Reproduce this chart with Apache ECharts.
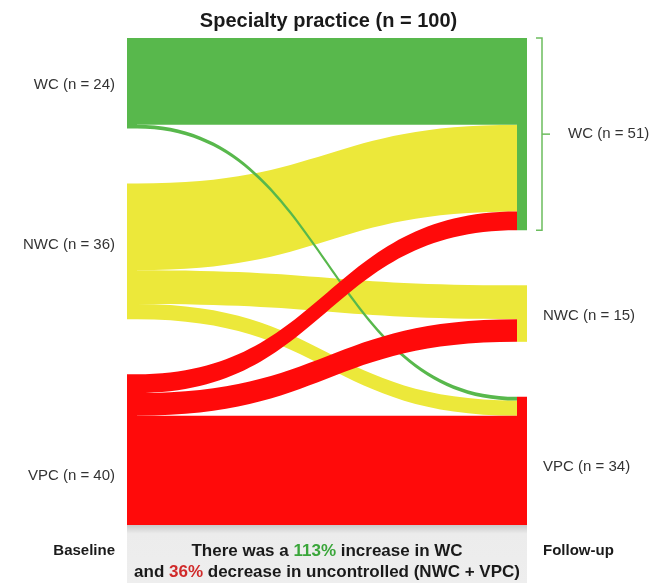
<!DOCTYPE html>
<html>
<head>
<meta charset="utf-8">
<script src="https://cdn.jsdelivr.net/npm/echarts@6/dist/echarts.min.js"></script>
<style>
  html, body { margin: 0; padding: 0; background: #ffffff; }
  #chart { width: 657px; height: 583px; }
</style>
</head>
<body>
<div id="chart"></div>
<script>
// Control status of patients at baseline and at follow-up
const categories = ['WC', 'NWC', 'VPC'];
const baselineCounts = [24, 36, 40];
const followUpCounts = [51, 15, 34];
// Patients moving from one baseline category to each follow-up category (WC, NWC, VPC)
const fromWC = [23, 0, 1];
const fromNWC = [23, 9, 4];
const fromVPC = [5, 6, 29];
const categoryColors = ['#58b84c', '#ece83a', '#ff0a0a'];

const FONT = '"Liberation Sans", Arial, Helvetica, sans-serif';
const SANKEY_LEFT = 127;
const SANKEY_TOP = 38;

const flows = { WC: fromWC, NWC: fromNWC, VPC: fromVPC };

// Nodes: baseline column first, then follow-up column
const nodes = [];
categories.forEach((c, i) => {
  nodes.push({
    name: 'base-' + c,
    itemStyle: { color: categoryColors[i] },
    label: {
      position: 'left',
      distance: 12,
      formatter: c + ' (n = ' + baselineCounts[i] + ')',
      offset: [0, [2, -6, 26][i]]
    }
  });
});
categories.forEach((c, i) => {
  nodes.push({
    name: 'follow-' + c,
    itemStyle: { color: categoryColors[i] },
    label: {
      position: 'right',
      distance: [41, 16, 16][i],
      formatter: c + ' (n = ' + followUpCounts[i] + ')',
      offset: [0, [0, 2, 6][i]]
    }
  });
});

// Links: yellow bands underneath, then the green, then the red ones on top
const linkOrder = ['NWC', 'WC', 'VPC'];
const links = [];
linkOrder.forEach(src => {
  flows[src].forEach((v, j) => {
    if (v > 0) {
      links.push({ source: 'base-' + src, target: 'follow-' + categories[j], value: v });
    }
  });
});

const chart = echarts.init(document.getElementById('chart'), null, { renderer: 'canvas' });

chart.setOption({
  backgroundColor: '#ffffff',
  animation: false,
  title: {
    text: 'Specialty practice (n = 100)',
    left: 'center',
    top: 6,
    textStyle: { fontFamily: FONT, fontSize: 20, fontWeight: 'bold', color: '#1a1a1a' }
  },
  series: [{
    type: 'sankey',
    left: SANKEY_LEFT,
    right: 130,
    top: SANKEY_TOP,
    bottom: 58,
    nodeWidth: 10,
    nodeGap: 55,
    layoutIterations: 0,
    draggable: false,
    emphasis: { disabled: true },
    label: { color: '#333333', fontSize: 15, fontFamily: FONT },
    itemStyle: { borderWidth: 0 },
    lineStyle: { color: 'source', opacity: 1, curveness: 0.5 },
    data: nodes,
    links: links
  }]
});

// Annotations placed from the computed node layout (layout is relative to the series box)
const data = chart.getModel().getSeriesByIndex(0).getData();
const lay = i => data.getItemLayout(i);
const leftX = SANKEY_LEFT + lay(0).x;
const rightEnd = SANKEY_LEFT + lay(3).x + lay(3).dx;
const bottomY = SANKEY_TOP + lay(2).y + lay(2).dy;
const wcTop = SANKEY_TOP + lay(3).y;
const wcBot = SANKEY_TOP + lay(3).y + lay(3).dy;
const bx = rightEnd + 15;
const midY = (wcTop + wcBot) / 2;

chart.setOption({
  graphic: [
    {
      type: 'rect',
      z: -1,
      shape: { x: leftX, y: bottomY, width: rightEnd - leftX, height: 583 - bottomY },
      style: {
        fill: new echarts.graphic.LinearGradient(0, 0, 0, 1, [
          { offset: 0, color: '#c9c9c9' },
          { offset: 0.15, color: '#ececec' },
          { offset: 1, color: '#eeeeee' }
        ])
      }
    },
    {
      type: 'polyline',
      shape: { points: [[bx - 6, wcTop], [bx, wcTop], [bx, wcBot], [bx - 6, wcBot]] },
      style: { stroke: '#6cbd5e', lineWidth: 1.5, fill: null }
    },
    {
      type: 'line',
      shape: { x1: bx, y1: midY, x2: bx + 8, y2: midY },
      style: { stroke: '#6cbd5e', lineWidth: 1.5 }
    },
    {
      type: 'text',
      x: leftX - 12,
      y: 551,
      style: {
        text: 'Baseline', align: 'right', verticalAlign: 'middle',
        font: 'bold 15px ' + FONT, fill: '#1a1a1a'
      }
    },
    {
      type: 'text',
      x: rightEnd + 16,
      y: 551,
      style: {
        text: 'Follow-up', align: 'left', verticalAlign: 'middle',
        font: 'bold 15px ' + FONT, fill: '#1a1a1a'
      }
    },
    {
      type: 'text',
      x: (leftX + rightEnd) / 2,
      y: 562,
      style: {
        text: 'There was a {g|113%} increase in WC\nand {r|36%} decrease in uncontrolled (NWC + VPC)',
        align: 'center', verticalAlign: 'middle',
        font: 'bold 17px ' + FONT, fill: '#1a1a1a', lineHeight: 21,
        rich: {
          g: { fill: '#3aa63a', font: 'bold 17px ' + FONT, lineHeight: 21 },
          r: { fill: '#d02a2a', font: 'bold 17px ' + FONT, lineHeight: 21 }
        }
      }
    }
  ]
});
</script>
</body>
</html>
